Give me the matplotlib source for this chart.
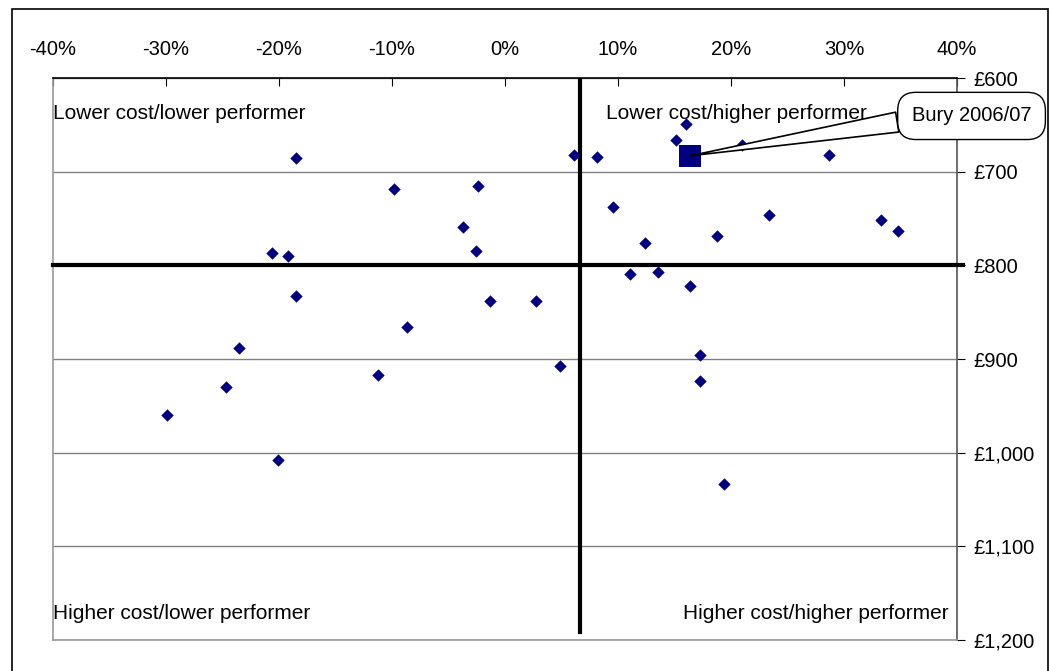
import matplotlib.pyplot as plt
from matplotlib.patches import Rectangle
from matplotlib.ticker import FuncFormatter

plt.rcParams['font.family'] = ['Liberation Sans', 'DejaVu Sans']

# performance vs comparator (%) and cost per head (GBP)
perf = [-18.5, -9.8, -2.4, -3.7, -2.6, -20.6, -19.2, -18.5, -1.3, 2.7,
        -8.7, -23.5, -24.7, -11.2, 4.9, -29.9, -20.1, 6.1, 8.1, 15.1,
        16.0, 21.0, 28.7, 9.6, 12.4, 18.8, 23.4, 33.3, 34.8, 11.1,
        13.5, 16.4, 17.3, 17.3, 19.4]
cost = [685, 718, 715, 759, 785, 787, 790, 833, 838, 838,
        866, 888, 930, 917, 907, 960, 1008, 682, 684, 666,
        649, 672, 682, 738, 776, 769, 746, 752, 763, 809,
        807, 822, 896, 923, 1033]
bury_perf = 16.4
bury_cost = 683
bury_label = 'Bury 2006/07'
avg_perf = 6.6
avg_cost = 800

x_ticks = [-40, -30, -20, -10, 0, 10, 20, 30, 40]
y_ticks = [600, 700, 800, 900, 1000, 1100, 1200]

fig = plt.figure(figsize=(10.5, 6.71), dpi=100)
fig.patches.append(Rectangle((12 / 1050, -0.05), 1036 / 1050, 1 - 9 / 671 + 0.05,
                             transform=fig.transFigure, fill=False,
                             edgecolor='black', linewidth=1.2))
ax = fig.add_axes([53 / 1050, 1 - 640 / 671, 904 / 1050, 562 / 671])

ax.set_xlim(-40, 40)
ax.set_ylim(1200, 600)
ax.set_xticks(x_ticks)
ax.set_yticks(y_ticks)
ax.xaxis.set_major_formatter(FuncFormatter(lambda v, p: f'{v:.0f}%'))
ax.yaxis.set_major_formatter(FuncFormatter(lambda v, p: f'£{v:,.0f}'))
ax.xaxis.tick_top()
ax.yaxis.tick_right()
ax.tick_params(axis='x', direction='in', length=6, labelsize=14.5, pad=14)
ax.tick_params(axis='y', direction='out', length=6, labelsize=14.5, pad=6)
ax.grid(axis='y', color='#808080', linewidth=1)
ax.set_axisbelow(True)
ax.spines['top'].set_color('black')
ax.spines['right'].set_color('#555555')
ax.spines['left'].set_color('#999999')
ax.spines['bottom'].set_color('#999999')
for s in ax.spines.values():
    s.set_linewidth(1.2)

# quadrant lines
ax.plot([-40, 40.5], [avg_cost, avg_cost], color='black', linewidth=3, clip_on=False, zorder=3)
ax.plot([avg_perf, avg_perf], [602, 1191], color='black', linewidth=3, zorder=3)

ax.scatter(perf, cost, marker='D', s=40, color='#000080', zorder=4, linewidths=0)
ax.scatter([bury_perf], [bury_cost], marker='s', s=230, color='#000080', zorder=5, linewidths=0)

ax.annotate(bury_label, xy=(bury_perf, bury_cost), xytext=(36.0, 640.5),
            fontsize=14.5, ha='left', va='center', annotation_clip=False,
            bbox=dict(boxstyle='round,pad=0.7,rounding_size=0.9', fc='white', ec='black', lw=1),
            arrowprops=dict(arrowstyle='wedge,tail_width=1.0,shrink_factor=0.5',
                            fc='white', ec='black', lw=1.2, shrinkA=0, shrinkB=0,
                            relpos=(0.0, 0.3)),
            zorder=6)

ax.text(-40, 638, 'Lower cost/lower performer', fontsize=15, ha='left', va='center')
ax.text(32.0, 638, 'Lower cost/higher performer', fontsize=15, ha='right', va='center')
ax.text(-40, 1172, 'Higher cost/lower performer', fontsize=15, ha='left', va='center')
ax.text(39.3, 1172, 'Higher cost/higher performer', fontsize=15, ha='right', va='center')

plt.savefig('out.png', dpi=100)
